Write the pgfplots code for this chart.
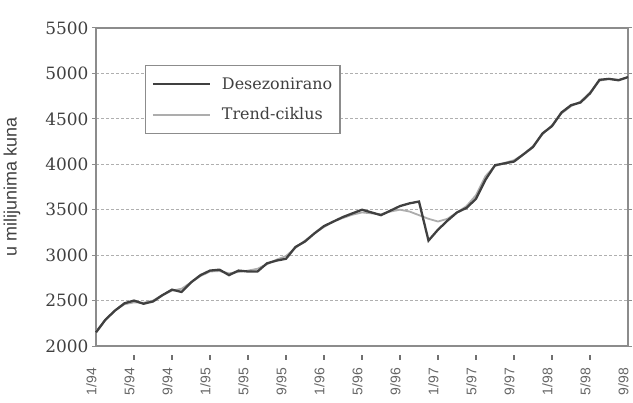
\documentclass[border=0pt]{standalone}
\usepackage{fontspec}
\setmainfont{DejaVu Serif}
\newfontfamily\labelfont{Liberation Sans}
\usepackage{pgfplots}
\usepackage{pgfplotstable}
\pgfplotsset{compat=1.18}

\definecolor{framegray}{gray}{0.55}
\definecolor{dser}{gray}{0.25}
\definecolor{tser}{gray}{0.68}
\definecolor{txt}{gray}{0.25}

% m = month index from 1/94; d = Desezonirano, t = Trend-ciklus
\pgfplotstableread{
m d t
0 2150 2160
1 2290 2290
2 2390 2390
3 2470 2460
4 2500 2480
5 2465 2475
6 2490 2500
7 2560 2560
8 2620 2610
9 2595 2630
10 2700 2700
11 2780 2770
12 2830 2820
13 2840 2825
14 2780 2800
15 2830 2815
16 2820 2830
17 2820 2850
18 2910 2900
19 2940 2950
20 2960 2990
21 3090 3080
22 3150 3160
23 3240 3240
24 3320 3310
25 3370 3370
26 3420 3410
27 3460 3445
28 3500 3470
29 3470 3460
30 3440 3450
31 3490 3480
32 3540 3500
33 3570 3480
34 3590 3440
35 3160 3400
36 3280 3370
37 3380 3400
38 3470 3470
39 3520 3540
40 3620 3660
41 3830 3870
42 3990 3980
43 4010 4015
44 4030 4045
45 4110 4110
46 4190 4200
47 4340 4330
48 4420 4430
49 4570 4560
50 4650 4640
51 4680 4690
52 4780 4790
53 4930 4920
54 4940 4940
55 4925 4930
56 4960 4955
}\series

\begin{document}
\begin{tikzpicture}
\path[use as bounding box, clip] (-96bp,-57bp) rectangle (537bp,346bp);
\begin{axis}[
  at={(0bp,0bp)}, anchor=south west,
  scale only axis,
  width=532bp, height=318bp,
  xmin=0, xmax=56,
  ymin=2000, ymax=5500,
  ytick={2000,2500,...,5500},
  xtick={0,4,...,56},
  xticklabels={1/94,5/94,9/94,1/95,5/95,9/95,1/96,5/96,9/96,1/97,5/97,9/97,1/98,5/98,9/98},
  xtick style={draw=none},
  ytick style={framegray, line width=1bp},
  tick align=outside,
  major tick length=4bp,
  axis line style={framegray, line width=2.8bp},
  ymajorgrids,
  grid style={framegray!70, densely dashed, line width=0.8bp},
  /pgf/number format/assume math mode=true,
  /pgf/number format/1000 sep={},
  yticklabel style={font=\fontsize{17}{19}\selectfont, txt},
  xticklabel style={rotate=90, anchor=east, font=\labelfont\fontsize{14}{16}\selectfont,
    txt!80, yshift=4.5bp, inner sep=1bp},
  xticklabel shift=17bp,
  ylabel={u milijunima kuna},
  ylabel style={at={(axis description cs:-0.158,0.5)}, anchor=center,
    font=\labelfont\fontsize{18}{20}\selectfont, txt},
  legend style={at={(0.092,0.884)}, anchor=north west,
    draw=framegray, line width=1.5bp, font=\fontsize{16}{18}\selectfont,
    text=txt, inner xsep=6bp, inner ysep=10bp, row sep=13bp},
  legend cell align=left,
  legend image code/.code={\draw[#1] (0bp,0bp) -- (57bp,0bp); \path (66bp,0bp);},
  reverse legend,
  clip=false,
]
\addplot[tser, line width=1.8bp] table[x=m, y=t] {\series};
\addplot[dser, line width=2.3bp] table[x=m, y=d] {\series};
\legend{Trend-ciklus, Desezonirano}
\pgfplotsinvokeforeach{4,8,...,52}{
  \draw[framegray!80!black, line width=1.2bp] (axis cs:#1,1900) -- (axis cs:#1,1845);
}
\end{axis}
\end{tikzpicture}
\end{document}
